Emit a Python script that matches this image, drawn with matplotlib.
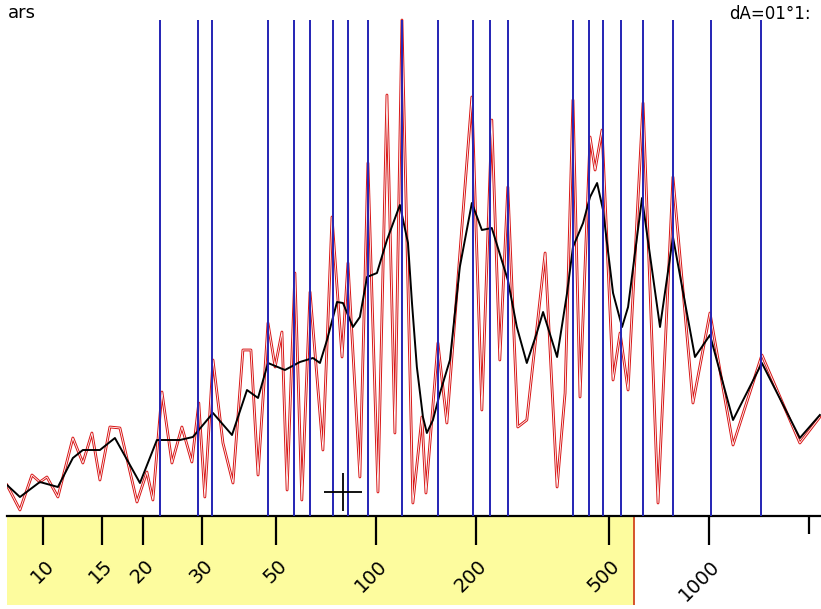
import matplotlib
matplotlib.use("Agg")
import matplotlib.pyplot as plt
import matplotlib.ticker as mticker
import matplotlib.transforms as mtrans

plt.rcParams["font.family"] = ["DejaVu Sans"]

# raw spectrum (red): frequency (Hz), level
red_f = [7.80, 8.53, 9.27, 9.79, 10.28, 11.09, 12.30, 13.18, 14.03, 14.83, 15.89, 17.03,
         19.16, 20.52, 21.39, 22.77, 24.40, 26.14, 28.01, 29.38, 30.63, 32.41, 34.72, 37.21,
         39.86, 42.13, 44.25, 47.4, 49.8, 52.2, 54.1, 57.1, 59.9, 63.4, 69.3, 73.8, 79.1, 82.4,
         89.5, 94.6, 101.4, 107.9, 114.0, 119.7, 129.1, 137.4, 141.3, 153.5, 163.3, 194.1,
         208.0, 222.8, 235.5, 248.9, 266.7, 283.8, 322.1, 349.9, 369.8, 390.5, 410.0, 439.5,
         455.0, 477.5, 515.2, 540.9, 571.6, 633.9, 703.1, 779.6, 895.3, 1007, 1181, 1442,
         1875, 2153]
red_v = [31, 6, 41, 34, 39, 19, 78, 53, 83, 36, 89, 88,
         14, 44, 16, 124, 53, 89, 54, 113, 19, 156, 73, 33,
         166, 166, 41, 193, 149, 184, 26, 243, 16, 224, 66, 299, 159, 253,
         39, 353, 24, 421, 83, 496, 13, 99, 23, 173, 93, 419,
         106, 396, 156, 329, 89, 96, 263, 29, 123, 416, 119, 379,
         346, 386, 136, 183, 126, 413, 13, 339, 113, 203, 71, 161,
         73, 99]

# smoothed spectrum (black)
blk_f = [7.80, 8.53, 9.79, 11.09, 12.30, 13.18, 14.83, 16.45, 19.56, 21.99, 25.78, 28.20,
         32.41, 36.96, 41.0, 44.25, 47.4, 53.3, 59.1, 64.7, 67.9, 71.3, 76.4, 79.6, 85.3,
         89.5, 94.0, 100.7, 107.9, 118.0, 124.8, 128.3, 132.7, 138.4, 142.2, 148.3, 155.7,
         166.8, 178.6, 194.1, 208.0, 222.8, 248.9, 264.9, 283.8, 304.1, 317.6, 349.9, 374.9,
         390.5, 418.7, 439.5, 461.4, 480.8, 515.2, 548.4, 571.6, 629.5, 712.9, 779.6, 907.8,
         1007, 1181, 1442, 1875, 2153]
blk_v = [31, 19, 34, 29, 58, 66, 66, 78, 33, 76, 76, 79,
         103, 81, 126, 118, 153, 146, 154, 158, 153, 176, 214, 213, 189,
         199, 239, 243, 276, 311, 273, 213, 149, 99, 83, 96, 123,
         156, 249, 313, 286, 288, 236, 189, 153, 183, 204, 159, 223,
         269, 293, 319, 333, 306, 223, 189, 209, 318, 189, 279, 159,
         181, 96, 153, 78, 101]

# marker lines (blue)
marks = [22.5, 29.2, 32.2, 47.4, 56.7, 63.4, 74.3, 82.4, 94.6, 119.7, 153.5, 195.5,
         219.9, 249, 390.5, 436, 480.6, 544, 633.6, 779.7, 1014, 1432]
mark_top = 496

ticks = [10, 15, 20, 30, 50, 100, 200, 500, 1000]
tick_labels = ["10", "15", "20", "30", "50", "100", "200", "500", "1000"]
band_end = 596
cursor = (79.6, 24)
fmin, fmax = 7.8, 2170

fig = plt.figure(figsize=(8.21, 6.09), dpi=100)
ax = fig.add_axes([7/821, 93/609, 814/821, 516/609])
strip = fig.add_axes([7/821, 4/609, 814/821, 89/609])
ax.set_zorder(2)

ax.plot(red_f, red_v, color="#d81414", lw=2.0, zorder=2, solid_joinstyle="round")
ax.plot(red_f, red_v, color="white", lw=0.6, zorder=2.1)
ax.plot(blk_f, blk_v, color="black", lw=1.4, zorder=3)
ax.vlines(marks, 0, mark_top, color="#2424b4", lw=1.4, zorder=4)
ax.plot([cursor[0]], [cursor[1]], marker="+", color="black", ms=28, mew=1.3, zorder=5)

ax.set_xscale("log")
ax.set_xlim(fmin, fmax)
ax.set_ylim(0, 516)
for s in ["left", "right", "top"]:
    ax.spines[s].set_visible(False)
ax.spines["bottom"].set_linewidth(1.6)
ax.set_yticks([])
ax.xaxis.set_major_locator(mticker.FixedLocator(ticks))
ax.xaxis.set_minor_locator(mticker.FixedLocator([2000]))
ax.xaxis.set_major_formatter(mticker.NullFormatter())
ax.xaxis.set_minor_formatter(mticker.NullFormatter())
ax.tick_params(axis="x", which="major", length=21, width=1.6, direction="out")
ax.tick_params(axis="x", which="minor", length=13, width=1.6, direction="out")

strip.set_xscale("log")
strip.set_xlim(fmin, fmax)
strip.set_ylim(0, 89)
strip.axis("off")
strip.axvspan(fmin, band_end, color="#fdfc9e", lw=0)
strip.axvline(band_end, color="#d2461e", lw=1.3)

tr = mtrans.offset_copy(strip.transData, fig=fig, x=8, y=0, units="dots")
for t, lab in zip(ticks, tick_labels):
    strip.text(t, 42, lab, transform=tr, rotation=45, rotation_mode="anchor",
               ha="right", va="center", fontsize=14, color="black", clip_on=False)

fig.text(8/821, 1 - 4/609, "ars", fontsize=13, va="top", ha="left")
fig.text(729/821, 1 - 5/609, "dA=01°1:", fontsize=12, va="top", ha="left")

fig.savefig("out.png", dpi=100)
